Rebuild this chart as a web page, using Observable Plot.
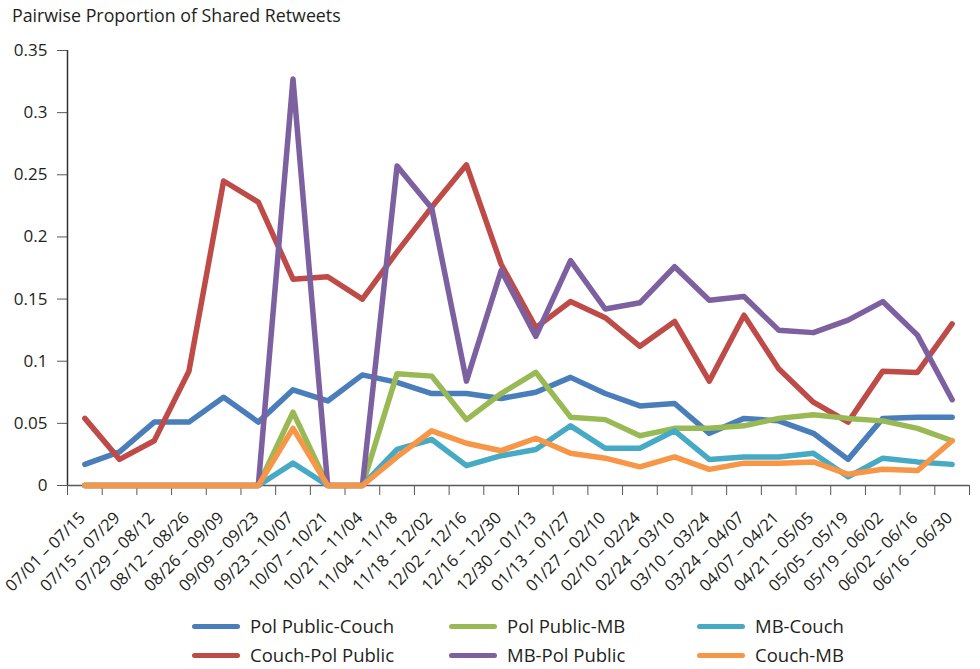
<!DOCTYPE html>
<html>
<head>
<meta charset="utf-8">
<script src="https://cdn.jsdelivr.net/npm/d3@7"></script>
<script src="https://cdn.jsdelivr.net/npm/@observablehq/plot@0.6"></script>
<style>
  html, body { margin: 0; padding: 0; background: #fff; }
  body { width: 980px; height: 669px; position: relative; overflow: hidden; font-family: "Open Sans", sans-serif; color: #231f20; }
  #title { position: absolute; left: 12px; top: 3px; font-size: 17.8px; }
  #chart { position: absolute; left: 0; top: 35px; }
  .leg { position: absolute; display: flex; align-items: center; font-size: 18.5px; line-height: 26px; white-space: nowrap; }
  .sw { width: 48px; height: 5px; border-radius: 3px; margin-right: 10px; }
</style>
</head>
<body>
<div id="title">Pairwise Proportion of Shared Retweets</div>
<div id="chart"></div>
<div id="legend"></div>
<script>
const categories = ["07/01 – 07/15","07/15 – 07/29","07/29 – 08/12","08/12 – 08/26","08/26 – 09/09","09/09 – 09/23","09/23 – 10/07","10/07 – 10/21","10/21 – 11/04","11/04 – 11/18","11/18 – 12/02","12/02 – 12/16","12/16 – 12/30","12/30 – 01/13","01/13 – 01/27","01/27 – 02/10","02/10 – 02/24","02/24 – 03/10","03/10 – 03/24","03/24 – 04/07","04/07 – 04/21","04/21 – 05/05","05/05 – 05/19","05/19 – 06/02","06/02 – 06/16","06/16 – 06/30"];
const seriesNames = ["Pol Public-Couch","Couch-Pol Public","Pol Public-MB","MB-Pol Public","MB-Couch","Couch-MB"];
const seriesColors = ["#4a7ebb","#be4b48","#98b954","#7d60a0","#46aac5","#f79646"];
const polPublicCouch = [0.017,0.027,0.051,0.051,0.071,0.051,0.077,0.068,0.089,0.083,0.074,0.074,0.070,0.075,0.087,0.074,0.064,0.066,0.042,0.054,0.052,0.042,0.021,0.054,0.055,0.055];
const couchPolPublic = [0.054,0.021,0.036,0.092,0.245,0.228,0.166,0.168,0.150,0.188,0.224,0.258,0.178,0.127,0.148,0.135,0.112,0.132,0.084,0.137,0.094,0.067,0.051,0.092,0.091,0.130];
const polPublicMB = [0,0,0,0,0,0,0.059,0,0,0.090,0.088,0.053,0.074,0.091,0.055,0.053,0.040,0.046,0.046,0.048,0.054,0.057,0.054,0.052,0.046,0.036];
const mbPolPublic = [0,0,0,0,0,0,0.327,0,0,0.257,0.223,0.084,0.173,0.120,0.181,0.142,0.147,0.176,0.149,0.152,0.125,0.123,0.133,0.148,0.121,0.069];
const mbCouch = [0,0,0,0,0,0,0.018,0,0,0.029,0.037,0.016,0.024,0.029,0.048,0.030,0.030,0.044,0.021,0.023,0.023,0.026,0.007,0.022,0.019,0.017];
const couchMB = [0,0,0,0,0,0,0.046,0,0,0.023,0.044,0.034,0.028,0.038,0.026,0.022,0.015,0.023,0.013,0.018,0.018,0.019,0.009,0.013,0.012,0.036];
const yTicks = [0,0.05,0.1,0.15,0.2,0.25,0.3,0.35];

const seriesValues = [polPublicCouch, couchPolPublic, polPublicMB, mbPolPublic, mbCouch, couchMB];
const table = seriesNames.flatMap((s, si) => seriesValues[si].map((v, i) => ({series: s, i, v})));
const bounds = d3.range(categories.length + 1).map(i => i - 0.5);
const axisColor = "#595959";

const plot = Plot.plot({
  width: 980,
  height: 565,
  marginLeft: 67,
  marginRight: 11,
  marginTop: 15,
  marginBottom: 115,
  style: {fontFamily: "'Open Sans', sans-serif", color: "#231f20", background: "#fff"},
  x: {type: "linear", domain: [-0.5, categories.length - 0.5]},
  y: {domain: [0, 0.35]},
  color: {domain: seriesNames, range: seriesColors},
  marks: [
    Plot.axisY({ticks: yTicks, tickSize: 10, tickPadding: 10, stroke: axisColor, fill: "#231f20", fontSize: 17, label: null, tickFormat: d => String(+d.toFixed(2))}),
    Plot.axisX({ticks: bounds, tickSize: 10, stroke: axisColor, label: null, tickFormat: () => ""}),
    Plot.ruleX([-0.5], {stroke: "#333", strokeWidth: 1.5}),
    Plot.ruleY([0], {stroke: axisColor, strokeWidth: 1.5}),
    Plot.text(categories, {x: (d, i) => i, y: () => 0, text: d => d, rotate: -45, textAnchor: "end", lineAnchor: "top", dx: -7, dy: 25, fontSize: 16.5, fill: "#231f20"}),
    Plot.line(table, {x: "i", y: "v", z: "series", stroke: "series", strokeWidth: 5.5, strokeLinejoin: "round", strokeLinecap: "round"})
  ]
});
document.getElementById("chart").appendChild(plot);

const legend = document.getElementById("legend");
const colX = [192, 449, 697];
const rowY = [613, 642];
seriesNames.forEach((s, i) => {
  const item = document.createElement("div");
  item.className = "leg";
  item.style.left = colX[Math.floor(i / 2)] + "px";
  item.style.top = rowY[i % 2] + "px";
  const sw = document.createElement("div");
  sw.className = "sw";
  sw.style.background = seriesColors[i];
  const t = document.createElement("span");
  t.textContent = s;
  item.appendChild(sw);
  item.appendChild(t);
  legend.appendChild(item);
});
</script>
</body>
</html>
